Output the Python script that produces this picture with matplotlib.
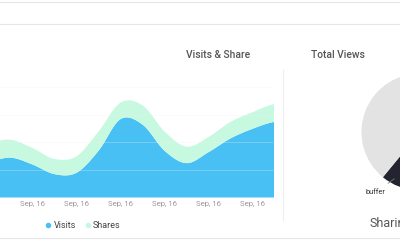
import numpy as np
import matplotlib
matplotlib.use("Agg")
import matplotlib.pyplot as plt
from matplotlib.lines import Line2D

plt.rcParams['font.family'] = ['Roboto', 'DejaVu Sans']

# data (one point per day, first and last run off the visible area)
days = list(range(-1, 13))
visits = [26, 29, 24, 17, 18, 34, 57, 53, 34, 25, 33, 43, 50, 55]
shares = [14, 13, 12, 11, 12, 14, 12, 14, 14, 12, 11, 12, 12, 13]
tick_days = [1, 3, 5, 7, 9, 11]
tick_labels = ["Sep, 16"] * 6

pie_labels = ["buffer", "other"]
pie_values = [20, 80]

blue = '#49C0F4'
green = '#C7F9E1'


def smooth(x, y, n=24):
    # catmull-rom style curve through the points
    x = np.asarray(x, float)
    y = np.asarray(y, float)
    xs, ys = [], []
    t = np.linspace(0, 1, n, endpoint=False)
    h00 = 2 * t**3 - 3 * t**2 + 1
    h10 = t**3 - 2 * t**2 + t
    h01 = -2 * t**3 + 3 * t**2
    h11 = t**3 - t**2
    for k in range(len(x) - 1):
        p0 = y[max(k - 1, 0)]
        p3 = y[min(k + 2, len(y) - 1)]
        m1 = (y[k + 1] - p0) / 2
        m2 = (p3 - y[k]) / 2
        xs.append(x[k] + t * (x[k + 1] - x[k]))
        ys.append(h00 * y[k] + h10 * m1 + h01 * y[k + 1] + h11 * m2)
    xs.append([x[-1]])
    ys.append([y[-1]])
    return np.concatenate(xs), np.concatenate(ys)


fig = plt.figure(figsize=(4, 2.4), dpi=100)

# area chart
ax = fig.add_axes([0, 1 - 197 / 240, 273 / 400, 110 / 240])
total = [v + s for v, s in zip(visits, shares)]
xs, vs = smooth(days, visits)
xs, ts = smooth(days, total)
ax.fill_between(xs, 0, vs, color=blue, lw=0, zorder=2)
ax.fill_between(xs, vs, ts, color=green, lw=0, zorder=2)
ax.set_xlim(-0.4545, 11.95)
ax.set_ylim(0, 80)
ax.set_yticks([0, 20, 40, 60, 80])
ax.set_yticklabels([])
ax.set_xticks(tick_days)
ax.set_xticklabels(tick_labels, fontsize=5.6, color='#999999')
ax.tick_params(length=0, pad=3)
ax.tick_params(axis='y', length=0, pad=0)
ax.grid(axis='y', color='#eeeeee', lw=0.6, alpha=0.35, zorder=3)
ax.set_axisbelow(False)
for s in ax.spines.values():
    s.set_visible(False)

handles = [Line2D([], [], ls='', marker='o', ms=3, color=blue, label='Visits'),
           Line2D([], [], ls='', marker='o', ms=3, color=green, label='Shares')]
fig.legend(handles=handles, loc='center', bbox_to_anchor=(83 / 400, 1 - 226 / 240),
           ncol=2, frameon=False, fontsize=6.5, handlelength=0.6,
           handletextpad=0.3, columnspacing=1.0, labelcolor='#444444')

# pie
ax2 = fig.add_axes([(420 - 58.5) / 400, 1 - (132 + 58.5) / 240, 117 / 400, 117 / 240])
ax2.pie(pie_values, colors=['#23242F', '#E3E3E3'], startangle=230.6,
        counterclock=True, radius=1, wedgeprops=dict(lw=0))
ax2.set_xlim(-1, 1)
ax2.set_ylim(-1, 1)
ax2.annotate(pie_labels[0], xy=(-0.44, -0.80), xytext=(-0.77, -1.04),
             fontsize=5.3, color='#333333', ha='center', va='center',
             annotation_clip=False,
             arrowprops=dict(arrowstyle='-', color='#777777', lw=0.6,
                             shrinkA=4, shrinkB=0))

# titles and page furniture
fig.text(218.5 / 400, 1 - 55 / 240, "Visits & Share", ha='center', va='center',
         fontsize=7.4, fontweight='medium', color='#555555')
fig.text(337.5 / 400, 1 - 55 / 240, "Total Views", ha='center', va='center',
         fontsize=7.4, fontweight='medium', color='#555555')
fig.text(370 / 400, 1 - 223 / 240, "Sharing", ha='left', va='center',
         fontsize=9, color='#555555')

for yy in [1.5, 24, 238]:
    fig.add_artist(Line2D([0, 1], [1 - yy / 240, 1 - yy / 240], color='#e6e6e6', lw=0.8))
fig.add_artist(Line2D([283 / 400, 283 / 400], [1 - 70 / 240, 1 - 220 / 240],
                      color='#eeeeee', lw=0.8))

fig.savefig("out.png", dpi=100)
